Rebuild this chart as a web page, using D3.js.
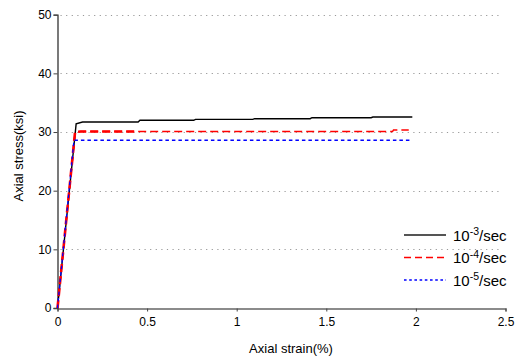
<!DOCTYPE html>
<html><head><meta charset="utf-8">
<script src="https://cdn.jsdelivr.net/npm/d3@7"></script>
<style>
body{margin:0;background:#fff;}
svg{display:block;font-family:Arial,"Liberation Sans",sans-serif;}
</style></head>
<body>
<svg id="c" width="519" height="358"></svg>
<script>
// ---- data ----
const xTicks = [0, 0.5, 1, 1.5, 2, 2.5];
const yTicks = [0, 10, 20, 30, 40, 50];
const gridTicks = [10, 20, 30, 40, 50];

const s3Strain = [0, 0.104, 0.14, 0.45, 0.46, 0.76, 0.77, 1.09, 1.10, 1.41, 1.42, 1.75, 1.76, 1.98];
const s3Stress = [0, 31.4, 31.7, 31.7, 32.0, 32.0, 32.15, 32.15, 32.27, 32.27, 32.44, 32.44, 32.56, 32.56];

const s4Strain = [0, 0.098, 0.13, 1.87, 1.875, 1.96];
const s4Stress = [0, 30.0, 30.1, 30.1, 30.35, 30.35];

const s5Strain = [0, 0.092, 0.11, 1.98];
const s5Stress = [0, 28.6, 28.6, 28.6];

const legendLabels = [["10", "-3", "/sec"], ["10", "-4", "/sec"], ["10", "-5", "/sec"]];

// ---- layout ----
const svg = d3.select("#c");
const x = d3.scaleLinear().domain([0, 2.5]).range([57.5, 505.5]);
const y = d3.scaleLinear().domain([0, 50]).range([308, 14.7]);

// grid
svg.append("g").selectAll("line").data(gridTicks).join("line")
  .attr("x1", x(0) + 3).attr("x2", x(2.48))
  .attr("y1", d => Math.round(y(d)) + 0.5).attr("y2", d => Math.round(y(d)) + 0.5)
  .attr("stroke", "#999").attr("stroke-width", 1).attr("stroke-dasharray", "1.2,4.4");

// axes
const xAxis = svg.append("g").attr("transform", "translate(0,308.5)")
  .call(d3.axisBottom(x).tickValues(xTicks).tickSize(3).tickPadding(6).tickFormat(d => String(d)));
const yAxis = svg.append("g").attr("transform", "translate(57.5,0)")
  .call(d3.axisLeft(y).tickValues(yTicks).tickSize(4).tickPadding(2).tickFormat(d => String(d)));
[xAxis, yAxis].forEach(a => {
  a.select(".domain").attr("stroke", "#333").attr("stroke-width", 1.3);
  a.selectAll(".tick line").attr("stroke", "#444");
  a.selectAll(".tick text").attr("fill", "#000").style("font-size", "12px")
    .style("font-family", 'Arial,"Liberation Sans",sans-serif');
});
xAxis.select(".domain").attr("stroke", "#666");

// series
const line = d3.line().x(d => x(d[0])).y(d => y(d[1]));
const zip = (a, b) => a.map((v, i) => [v, b[i]]);

svg.append("path").datum(zip(s3Strain, s3Stress)).attr("d", line)
  .attr("fill", "none").attr("stroke", "#000").attr("stroke-width", 1.4);
const red = zip(s4Strain, s4Stress);
svg.append("path").datum(red).attr("d", line)
  .attr("fill", "none").attr("stroke", "#ff0000").attr("stroke-width", 1.4).attr("stroke-dasharray", "8,4");
svg.append("path").datum(red.filter(d => d[0] <= 0.45).concat([[0.45, s4Stress[2]]])).attr("d", line)
  .attr("fill", "none").attr("stroke", "#ff0000").attr("stroke-width", 2.6).attr("stroke-dasharray", "8,4");
svg.append("path").datum(zip(s5Strain, s5Stress)).attr("d", line)
  .attr("fill", "none").attr("stroke", "#0000ff").attr("stroke-width", 1.3).attr("stroke-dasharray", "3.5,3");

// axis titles
svg.append("text").attr("x", 291).attr("y", 353).attr("text-anchor", "middle")
  .style("font-size", "13px").text("Axial strain(%)");
svg.append("text").attr("transform", "translate(23,156) rotate(-90)").attr("text-anchor", "middle")
  .style("font-size", "13px").text("Axial stress(ksi)");

// legend
const legStyles = [
  {stroke: "#555", w: 2, dash: null},
  {stroke: "#ff0000", w: 1.3, dash: "7,4"},
  {stroke: "#0000ff", w: 1.3, dash: "2.6,2.6"}
];
const legY = [235, 257.5, 280];
legendLabels.forEach((lab, i) => {
  const g = svg.append("g");
  g.append("line").attr("x1", 404).attr("x2", 446).attr("y1", legY[i]).attr("y2", legY[i])
    .attr("stroke", legStyles[i].stroke).attr("stroke-width", legStyles[i].w)
    .attr("stroke-dasharray", legStyles[i].dash);
  const t = g.append("text").attr("x", 453).attr("y", legY[i] + 5.5).style("font-size", "15px");
  t.append("tspan").text(lab[0]);
  t.append("tspan").attr("dy", -5.5).style("font-size", "10.5px").text(lab[1]);
  t.append("tspan").attr("dy", 5.5).text(lab[2]);
});
</script>
</body></html>
